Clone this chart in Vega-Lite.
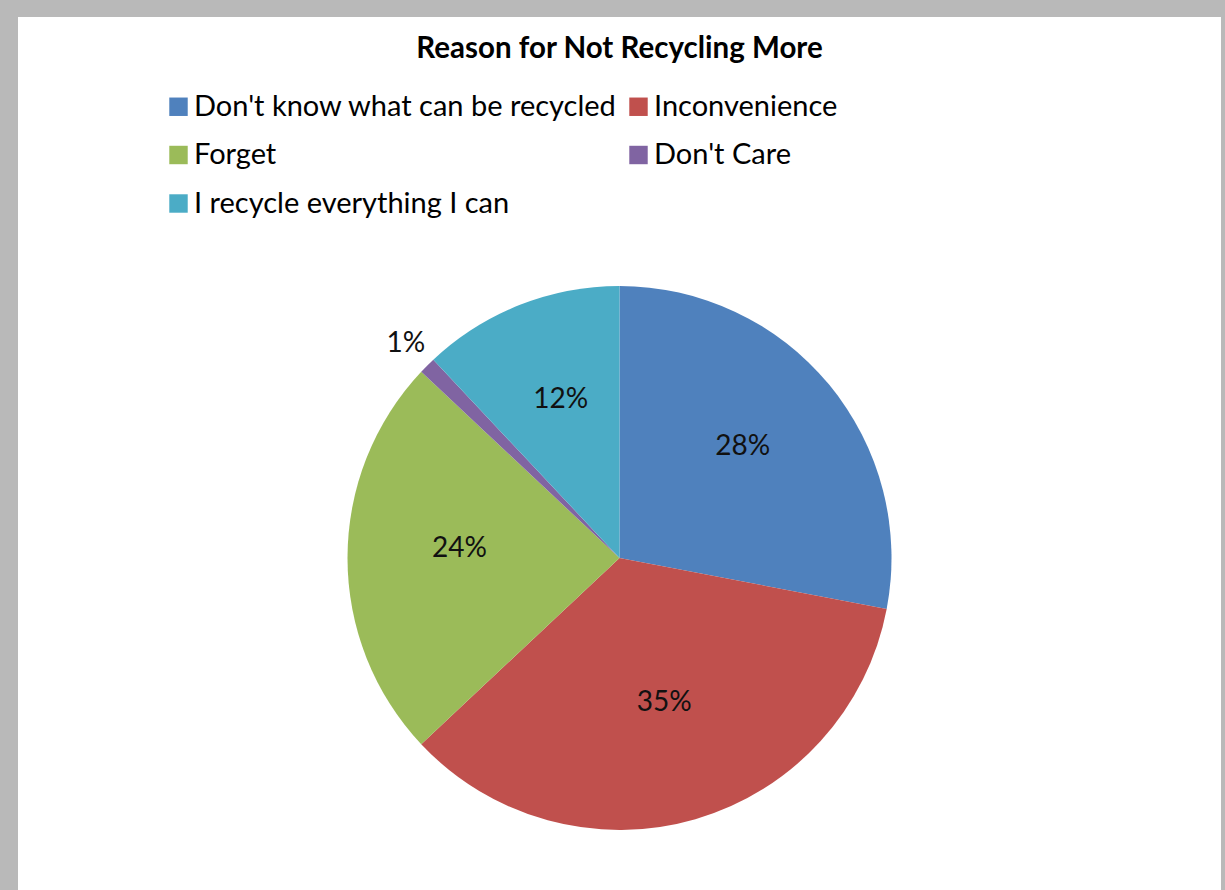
{
  "$schema": "https://vega.github.io/schema/vega-lite/v6.json",
  "width": 1203,
  "height": 873,
  "padding": {"left": 18, "top": 17, "right": 4, "bottom": 0},
  "autosize": {"type": "pad"},
  "background": "#b9b9b9",
  "view": {"fill": "#ffffff", "stroke": null},
  "config": {
    "view": {"fill": "#ffffff", "stroke": null},
    "font": "Lato"
  },
  "title": {
    "text": "Reason for Not Recycling More",
    "font": "Lato",
    "fontSize": 29.5,
    "fontWeight": "bold",
    "color": "#000000",
    "anchor": "middle",
    "frame": "group",
    "baseline": "alphabetic",
    "offset": -70
  },
  "data": {
    "values": [
      {"reason": "Don't know what can be recycled", "value": 0.28, "order": 1},
      {"reason": "Inconvenience", "value": 0.35, "order": 2},
      {"reason": "Forget", "value": 0.24, "order": 3},
      {"reason": "Don't Care", "value": 0.01, "order": 4},
      {"reason": "I recycle everything I can", "value": 0.12, "order": 5}
    ]
  },
  "encoding": {
    "theta": {"field": "value", "type": "quantitative", "stack": true},
    "order": {"field": "order", "type": "quantitative"}
  },
  "layer": [
    {
      "mark": {"type": "arc", "outerRadius": 272, "x": {"expr": "width/2"}, "y": {"expr": "height/2 + 104.5"}},
      "encoding": {
        "color": {
          "field": "reason",
          "type": "nominal",
          "scale": {
            "domain": ["Don't know what can be recycled", "Inconvenience", "Forget", "Don't Care", "I recycle everything I can"],
            "range": ["#4F81BD", "#C0504D", "#9BBB59", "#8064A2", "#4BACC6"]
          },
          "legend": {
            "title": null,
            "orient": "none",
            "legendX": 146,
            "legendY": 75,
            "padding": 0,
            "direction": "horizontal",
            "columns": 2,
            "symbolType": "square",
            "symbolSize": 340,
            "symbolStrokeWidth": 0,
            "symbolOpacity": 1,
            "labelFont": "Lato",
            "labelFontSize": 29,
            "labelColor": "#000000",
            "labelOffset": 1,
            "labelLimit": 0,
            "rowPadding": 18.5,
            "columnPadding": 6
          }
        }
      }
    },
    {
      "mark": {"type": "text", "radius": 160, "dy": -9, "fontSize": 28, "font": "Lato", "color": "#111111", "align": "center", "baseline": "middle", "x": {"expr": "width/2"}, "y": {"expr": "height/2 + 104.5"}},
      "encoding": {
        "text": {"field": "value", "type": "quantitative", "format": ".0%"},
        "opacity": {"condition": {"test": "datum.value < 0.05", "value": 0}, "value": 1}
      }
    },
    {
      "mark": {"type": "text", "radius": 302, "fontSize": 28, "font": "Lato", "color": "#111111", "align": "center", "baseline": "middle", "x": {"expr": "width/2"}, "y": {"expr": "height/2 + 104.5"}},
      "encoding": {
        "text": {"field": "value", "type": "quantitative", "format": ".0%"},
        "opacity": {"condition": {"test": "datum.value < 0.05", "value": 1}, "value": 0}
      }
    }
  ]
}
